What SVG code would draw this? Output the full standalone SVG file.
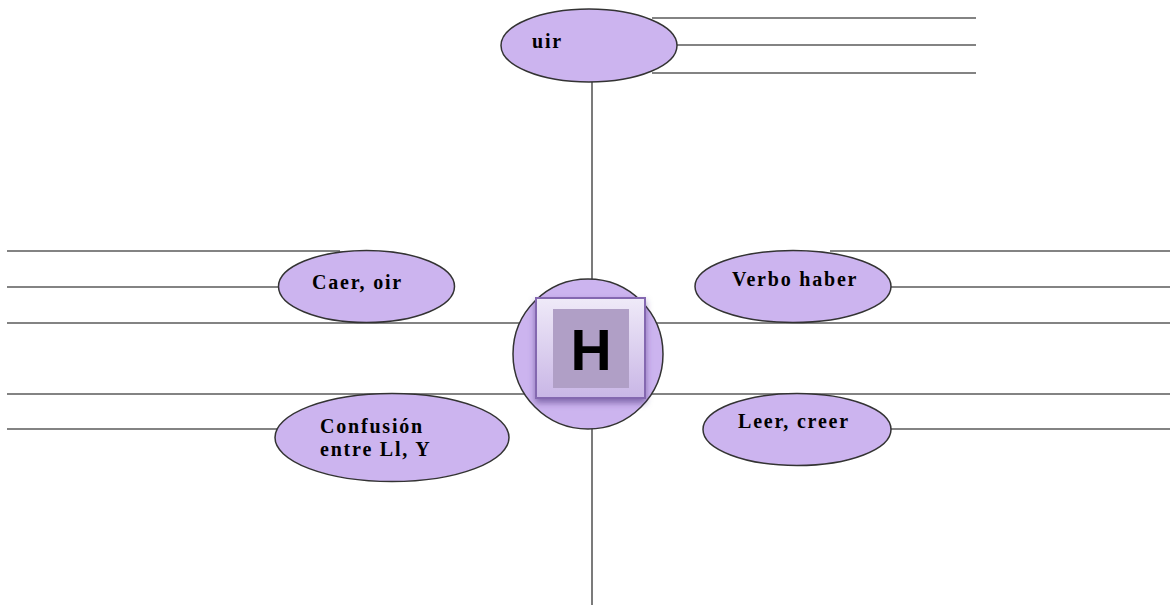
<svg xmlns="http://www.w3.org/2000/svg" width="1174" height="607" viewBox="0 0 1174 607">
<style>
.ln{stroke:#5a5a5a;stroke-width:1.6;fill:none}
.el{fill:#ccb4ef;stroke:#333;stroke-width:1.5}
.lb{font-family:"Liberation Serif","Times New Roman",serif;font-weight:bold;font-size:20px;letter-spacing:1.8px;fill:#000}
</style>
<defs>
<linearGradient id="sq" x1="0" y1="0" x2="0" y2="1">
<stop offset="0" stop-color="#efeaf8"/>
<stop offset="1" stop-color="#c9b6e6"/>
</linearGradient>
<filter id="sh" x="-20%" y="-20%" width="140%" height="150%">
<feDropShadow dx="0" dy="4" stdDeviation="3" flood-color="#4a2f7a" flood-opacity="0.55"/>
</filter>
</defs>
<g id="connectors">
<line class="ln" x1="592" y1="82" x2="592" y2="605"/>
<line class="ln" x1="652" y1="18" x2="976" y2="18"/>
<line class="ln" x1="677" y1="45" x2="976" y2="45"/>
<line class="ln" x1="652" y1="73" x2="976" y2="73"/>
<line class="ln" x1="7" y1="251" x2="340" y2="251"/>
<line class="ln" x1="7" y1="287" x2="279" y2="287"/>
<line class="ln" x1="7" y1="323" x2="1170" y2="323"/>
<line class="ln" x1="7" y1="394" x2="1170" y2="394"/>
<line class="ln" x1="7" y1="429" x2="277" y2="429"/>
<line class="ln" x1="830" y1="251" x2="1170" y2="251"/>
<line class="ln" x1="891" y1="287" x2="1170" y2="287"/>
<line class="ln" x1="891" y1="429" x2="1170" y2="429"/>
</g>
<g id="node-uir">
<ellipse class="el" cx="589" cy="45.5" rx="88" ry="36.5"/>
<text class="lb" x="532" y="48">uir</text>
</g>
<g id="node-caer">
<ellipse class="el" cx="366.5" cy="286.5" rx="88" ry="36"/>
<text class="lb" x="312" y="289">Caer, oir</text>
</g>
<g id="node-confusion">
<ellipse class="el" cx="392" cy="437.5" rx="117" ry="44"/>
<text class="lb" x="320" y="433">Confusión</text>
<text class="lb" x="320" y="456">entre Ll, Y</text>
</g>
<g id="node-verbo">
<ellipse class="el" cx="793" cy="286.5" rx="98" ry="36"/>
<text class="lb" x="732" y="286">Verbo haber</text>
</g>
<g id="node-leer">
<ellipse class="el" cx="797" cy="429.5" rx="94" ry="36"/>
<text class="lb" x="738" y="428">Leer, creer</text>
</g>
<g id="node-center">
<circle class="el" cx="588" cy="354" r="75"/>
<rect x="536" y="298" width="109" height="100" fill="url(#sq)" stroke="#8468b0" stroke-width="2" filter="url(#sh)"/>
<rect x="553" y="309" width="76" height="79" fill="#b09fc6"/>
<text x="591" y="370" text-anchor="middle" font-family="Liberation Sans, Arial, sans-serif" font-weight="bold" font-size="57" fill="#000">H</text>
</g>
</svg>
